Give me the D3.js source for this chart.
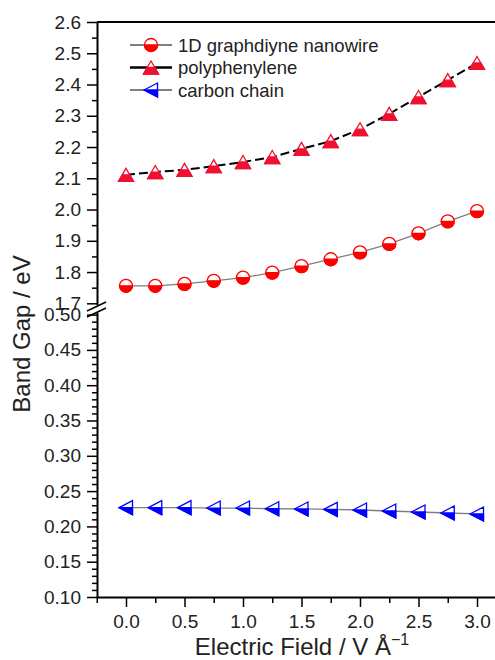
<!DOCTYPE html>
<html><head><meta charset="utf-8">
<script src="https://cdn.jsdelivr.net/npm/d3@7/dist/d3.min.js"></script>
<style>html,body{margin:0;padding:0;background:#fff;}svg{display:block;}</style>
</head><body><div id="chart"></div>
<script>
const fieldValues = [0, 0.25, 0.5, 0.75, 1.0, 1.25, 1.5, 1.75, 2.0, 2.25, 2.5, 2.75, 3.0];
const graphdiyne = [1.756, 1.756, 1.762, 1.772, 1.782, 1.798, 1.819, 1.841, 1.863, 1.890, 1.924, 1.962, 1.995];
const polyphenylene = [2.111, 2.120, 2.127, 2.139, 2.152, 2.168, 2.194, 2.219, 2.257, 2.306, 2.360, 2.414, 2.469];
const carbonChain = [0.2265, 0.2265, 0.2265, 0.226, 0.226, 0.225, 0.2247, 0.2242, 0.2232, 0.2218, 0.2204, 0.219, 0.2176];
const seriesNames = ["1D graphdiyne nanowire", "polyphenylene", "carbon chain"];
const xTickLabels = ["0.0", "0.5", "1.0", "1.5", "2.0", "2.5", "3.0"];
const yUpperTicks = [1.7, 1.8, 1.9, 2.0, 2.1, 2.2, 2.3, 2.4, 2.5, 2.6];
const yLowerTicks = [0.10, 0.15, 0.20, 0.25, 0.30, 0.35, 0.40, 0.45, 0.50];

const W = 495, H = 660;
const svg = d3.select("#chart").append("svg").attr("width", W).attr("height", H)
  .style("font-family", "'Liberation Sans', Arial, sans-serif");

const x = d3.scaleLinear().domain([-0.25, 3.25]).range([96.75, 506.25]);
const yU = d3.scaleLinear().domain([1.7, 2.6]).range([303.3, 22]);
const yL = d3.scaleLinear().domain([0.10, 0.50]).range([597, 314.6]);

const axisX = 97, bottomY = 597;

// top border
svg.append("line").attr("x1", axisX).attr("x2", W + 20).attr("y1", 22).attr("y2", 22)
  .attr("stroke", "#000").attr("stroke-width", 2);

// X axis
const xMinor = d3.range(-0.25, 3.3, 0.5);
const xAx = svg.append("g").attr("transform", `translate(0,${bottomY})`);
xAx.call(d3.axisBottom(x).tickValues(xMinor).tickSize(6).tickFormat(""));
xAx.call(g => g.select(".domain").remove());
const xAx2 = svg.append("g").attr("transform", `translate(0,${bottomY})`);
xAx2.call(d3.axisBottom(x).tickValues(xTickLabels.map(Number)).tickSize(10).tickPadding(8)
  .tickFormat((d, i) => xTickLabels[i]));
xAx2.selectAll("text").attr("font-size", 19).attr("fill", "#222").attr("font-family", "'Liberation Sans', Arial, sans-serif");
xAx2.select(".domain").attr("d", `M${axisX},0.5H${W + 20}`).attr("stroke-width", 2);
[xAx, xAx2].forEach(g => g.selectAll(".tick line").attr("stroke-width", 1.5));

// Upper Y axis
const yUAx = svg.append("g").attr("transform", `translate(${axisX},0)`);
yUAx.call(d3.axisLeft(yU).tickValues(d3.range(1.75, 2.6, 0.1)).tickSize(5).tickFormat(""));
yUAx.select(".domain").remove();
const yUAx2 = svg.append("g").attr("transform", `translate(${axisX},0)`);
yUAx2.call(d3.axisLeft(yU).tickValues(yUpperTicks).tickSize(10).tickPadding(6).tickFormat(d3.format(".1f")));
yUAx2.select(".domain").attr("d", `M0.5,22V306`).attr("stroke-width", 2);

// Lower Y axis
const yLAx = svg.append("g").attr("transform", `translate(${axisX},0)`);
yLAx.call(d3.axisLeft(yL).tickValues(d3.range(0.11, 0.505, 0.01).filter(v => Math.abs(v * 100 % 5) > 0.5 && Math.abs(v * 100 % 5 - 5) > 0.5)).tickSize(5).tickFormat(""));
yLAx.select(".domain").remove();
const yLAx2 = svg.append("g").attr("transform", `translate(${axisX},0)`);
yLAx2.call(d3.axisLeft(yL).tickValues(yLowerTicks).tickSize(10).tickPadding(6).tickFormat(d3.format(".2f")));
yLAx2.select(".domain").attr("d", `M0.5,313V597`).attr("stroke-width", 2);

[yUAx, yUAx2, yLAx, yLAx2].forEach(g => {
  g.selectAll(".tick line").attr("stroke-width", 1.5);
  g.selectAll("text").attr("font-size", 19).attr("fill", "#222").attr("font-family", "'Liberation Sans', Arial, sans-serif");
});

// break marks
const brk = svg.append("g");
brk.append("rect").attr("x", axisX - 3).attr("y", 305).attr("width", 6).attr("height", 8).attr("fill", "#fff");
[[0], [6]].forEach(([o]) => {
  brk.append("line").attr("x1", axisX - 10).attr("y1", 311 + o).attr("x2", axisX + 9).attr("y2", 302 + o)
    .attr("stroke", "#000").attr("stroke-width", 1.5);
});

// Marker shapes
function circleMarker(g, col) {
  const r = 6.5;
  g.append("circle").attr("r", r).attr("fill", "#fff").attr("stroke", col).attr("stroke-width", 1.3);
  g.append("path").attr("d", `M${-r},0A${r},${r} 0 0 0 ${r},0Z`).attr("fill", col).attr("stroke", col).attr("stroke-width", 1.3);
}
function triUpMarker(g, col) {
  g.append("path").attr("d", "M-7.5,6.5L7.5,6.5L0,-6.5Z").attr("fill", "#fff").attr("stroke", col).attr("stroke-width", 1.3);
  g.append("path").attr("d", "M-3.75,0L3.75,0L7.5,6.5L-7.5,6.5Z").attr("fill", col).attr("stroke", col).attr("stroke-width", 1.3);
}
function triLeftMarker(g, col) {
  g.append("path").attr("d", "M-7,0L6.5,-7L6.5,7Z").attr("fill", "#fff").attr("stroke", col).attr("stroke-width", 1.3);
  g.append("path").attr("d", "M-7,0L6.5,0L6.5,7Z").attr("fill", col).attr("stroke", col).attr("stroke-width", 1.3);
}

const series = [
  { name: seriesNames[0], vals: graphdiyne, y: yU, line: "#7f7f7f", lw: 1.3, dash: null, col: "#ff0000", mk: circleMarker },
  { name: seriesNames[1], vals: polyphenylene, y: yU, line: "#000", lw: 2, dash: "9,4", col: "#f01030", mk: triUpMarker },
  { name: seriesNames[2], vals: carbonChain, y: yL, line: "#7f7f7f", lw: 1.3, dash: null, col: "#0000ff", mk: triLeftMarker }
];

series.forEach(s => {
  const pts = fieldValues.map((f, i) => [x(f), s.y(s.vals[i])]);
  svg.append("path").attr("d", d3.line()(pts)).attr("fill", "none").attr("stroke", s.line)
    .attr("stroke-width", s.lw).attr("stroke-dasharray", s.dash);
  pts.forEach(p => {
    const g = svg.append("g").attr("transform", `translate(${p[0]},${p[1]})`);
    s.mk(g, s.col);
  });
});

// Legend
const legY = [45, 67.5, 90];
series.forEach((s, i) => {
  const g = svg.append("g").attr("transform", `translate(0,${legY[i]})`);
  g.append("line").attr("x1", 130).attr("x2", 172).attr("y1", 0).attr("y2", 0).attr("stroke", s.line).attr("stroke-width", s.lw + 0.5);
  const m = g.append("g").attr("transform", "translate(151,0)");
  s.mk(m, s.col);
  g.append("text").attr("x", 178).attr("y", 6.5).attr("font-size", 18.5).attr("fill", "#222").text(s.name);
});

// Axis titles
const xt = svg.append("text").attr("x", 302).attr("y", 655).attr("text-anchor", "middle").attr("font-size", 24).attr("fill", "#222");
xt.append("tspan").text("Electric Field / V Å");
xt.append("tspan").attr("font-size", 16).attr("dy", -10).text("−1");

svg.append("text").attr("transform", "translate(30,334) rotate(-90)").attr("text-anchor", "middle")
  .attr("font-size", 24).attr("fill", "#222").text("Band Gap / eV");
</script></body></html>
